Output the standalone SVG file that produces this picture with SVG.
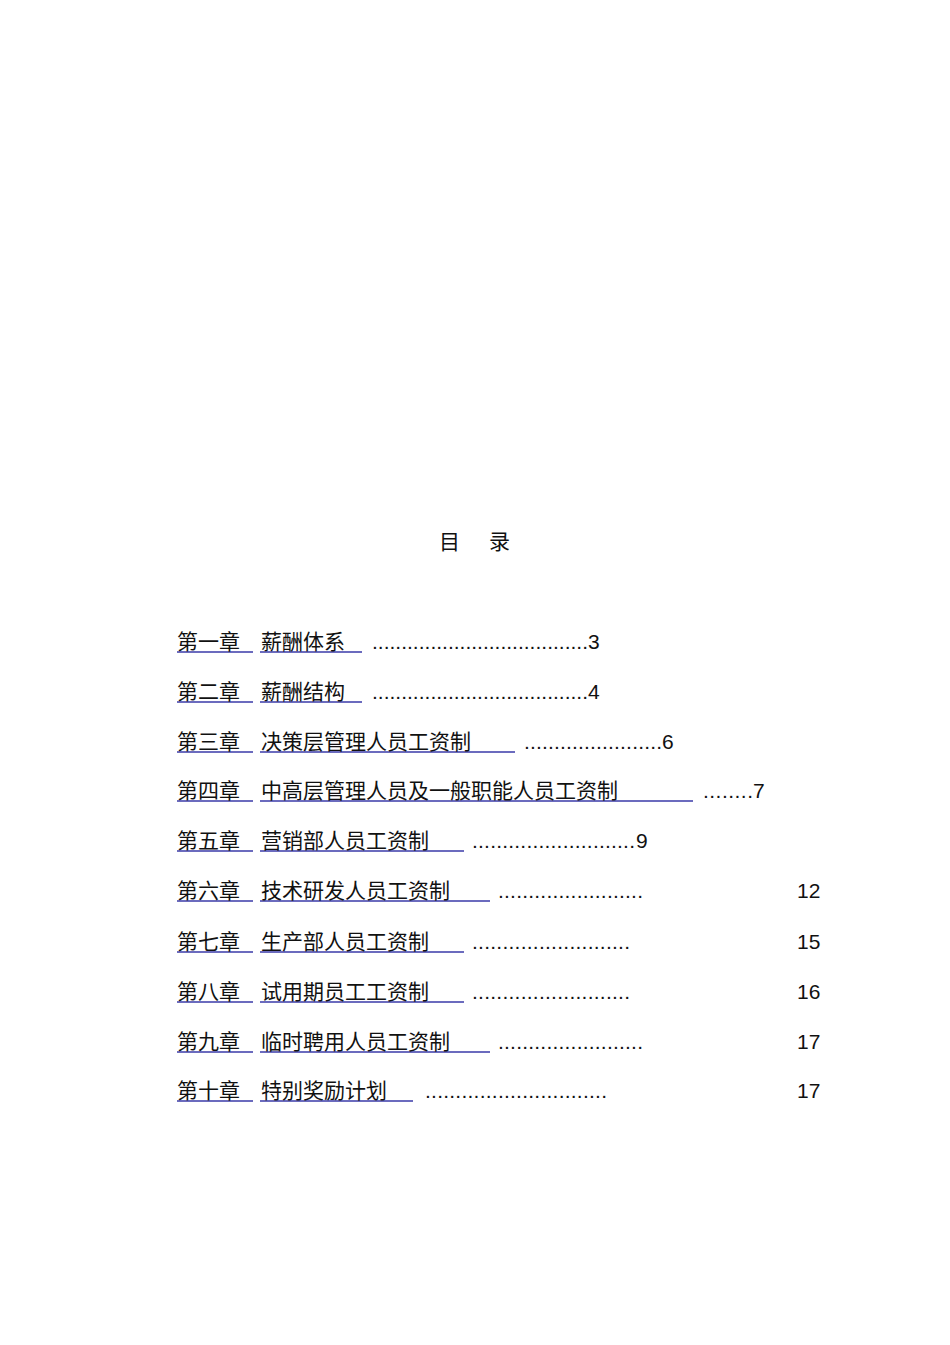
<svg xmlns="http://www.w3.org/2000/svg" width="950" height="1345" viewBox="0 0 950 1345">
<style>
text{font-family:"Liberation Sans","Noto Sans CJK SC",sans-serif;font-size:21px;fill:#111}
.u{stroke:#3a3aa8;stroke-width:1.3}
</style>
<rect width="950" height="1345" fill="#fff"/>
<g id="title"><text x="439" y="549">目</text><text x="489" y="549">录</text></g>
<g id="connectors">
<line class="u" x1="177" y1="652" x2="253" y2="652"/><line class="u" x1="260" y1="652" x2="362" y2="652"/>
<line class="u" x1="177" y1="702" x2="253" y2="702"/><line class="u" x1="260" y1="702" x2="362" y2="702"/>
<line class="u" x1="177" y1="752" x2="253" y2="752"/><line class="u" x1="260" y1="752" x2="515" y2="752"/>
<line class="u" x1="177" y1="801" x2="253" y2="801"/><line class="u" x1="260" y1="801" x2="693" y2="801"/>
<line class="u" x1="177" y1="851" x2="253" y2="851"/><line class="u" x1="260" y1="851" x2="464" y2="851"/>
<line class="u" x1="177" y1="901" x2="253" y2="901"/><line class="u" x1="260" y1="901" x2="490" y2="901"/>
<line class="u" x1="177" y1="952" x2="253" y2="952"/><line class="u" x1="260" y1="952" x2="464" y2="952"/>
<line class="u" x1="177" y1="1002" x2="253" y2="1002"/><line class="u" x1="260" y1="1002" x2="464" y2="1002"/>
<line class="u" x1="177" y1="1052" x2="253" y2="1052"/><line class="u" x1="260" y1="1052" x2="490" y2="1052"/>
<line class="u" x1="177" y1="1101" x2="253" y2="1101"/><line class="u" x1="260" y1="1101" x2="413" y2="1101"/>
</g>
<g id="r1"><text x="177" y="649">第一章</text><text x="261" y="649">薪酬体系</text><text x="372" y="649" textLength="216" lengthAdjust="spacing">.....................................</text><text x="588" y="649">3</text></g>
<g id="r2"><text x="177" y="699">第二章</text><text x="261" y="699">薪酬结构</text><text x="372" y="699" textLength="216" lengthAdjust="spacing">.....................................</text><text x="588" y="699">4</text></g>
<g id="r3"><text x="177" y="749">第三章</text><text x="261" y="749">决策层管理人员工资制</text><text x="524" y="749" textLength="138" lengthAdjust="spacing">.......................</text><text x="662" y="749">6</text></g>
<g id="r4"><text x="177" y="798">第四章</text><text x="261" y="798">中高层管理人员及一般职能人员工资制</text><text x="703" y="798" textLength="50" lengthAdjust="spacing">........</text><text x="753" y="798">7</text></g>
<g id="r5"><text x="177" y="848">第五章</text><text x="261" y="848">营销部人员工资制</text><text x="472" y="848" textLength="163" lengthAdjust="spacing">...........................</text><text x="636" y="848">9</text></g>
<g id="r6"><text x="177" y="898">第六章</text><text x="261" y="898">技术研发人员工资制</text><text x="498" y="898" textLength="145" lengthAdjust="spacing">........................</text><text x="797" y="898">12</text></g>
<g id="r7"><text x="177" y="949">第七章</text><text x="261" y="949">生产部人员工资制</text><text x="472" y="949" textLength="158" lengthAdjust="spacing">..........................</text><text x="797" y="949">15</text></g>
<g id="r8"><text x="177" y="999">第八章</text><text x="261" y="999">试用期员工工资制</text><text x="472" y="999" textLength="158" lengthAdjust="spacing">..........................</text><text x="797" y="999">16</text></g>
<g id="r9"><text x="177" y="1049">第九章</text><text x="261" y="1049">临时聘用人员工资制</text><text x="498" y="1049" textLength="145" lengthAdjust="spacing">........................</text><text x="797" y="1049">17</text></g>
<g id="r10"><text x="177" y="1098">第十章</text><text x="261" y="1098">特别奖励计划</text><text x="425" y="1098" textLength="182" lengthAdjust="spacing">..............................</text><text x="797" y="1098">17</text></g>
</svg>
